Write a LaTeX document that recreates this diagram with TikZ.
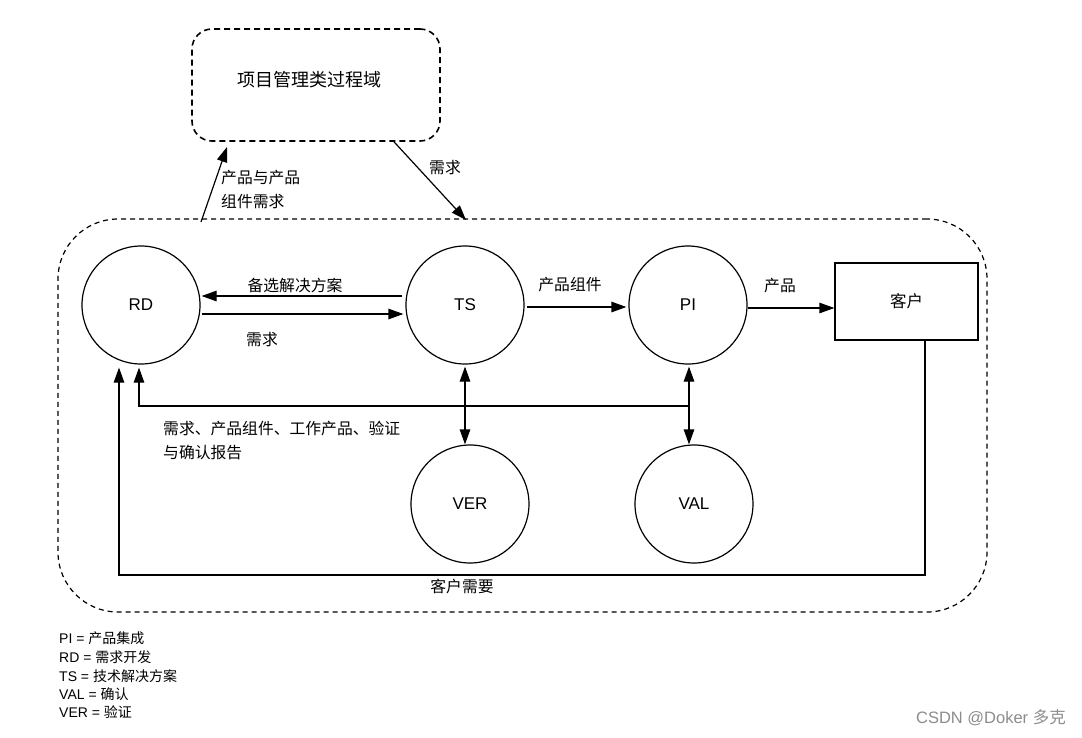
\documentclass[tikz,border=0pt]{standalone}
\usepackage{fontspec}
\setmainfont{Liberation Sans}
\newfontfamily\cjk{Noto Sans CJK SC}
\usetikzlibrary{arrows.meta,calc}
\begin{document}
\begin{tikzpicture}[x=1pt,y=-1pt,
  circ/.style={draw,circle,line width=1.2pt,minimum size=118pt,inner sep=0pt,font=\fontsize{17}{20}\selectfont},
  tip/.style={},
  arr/.style={line width=1.2pt,-{Triangle[length=15pt,width=10.5pt]}},
  darr/.style={line width=1.2pt,{Triangle[length=15pt,width=10.5pt]}-{Triangle[length=15pt,width=10.5pt]}},
  lbl/.style={font=\cjk\fontsize{15.8}{24}\selectfont,inner sep=0pt,align=left},
  leg/.style={font=\fontsize{14}{16}\selectfont,inner sep=0pt,anchor=west}
]
\useasboundingbox (0,0) rectangle (1082,737);
% domain boxes
\node[draw,dashed,dash pattern=on 6pt off 4pt,line width=1.6pt,rounded corners=20pt,minimum width=248pt,minimum height=112pt] (PM) at (316,85) {};
\node[lbl,font=\cjk\fontsize{18}{20}\selectfont] (PMt) at (309,80) {项目管理类过程域};
\node[draw,dashed,dash pattern=on 5pt off 4pt,line width=1.2pt,rounded corners=60pt,minimum width=929pt,minimum height=393pt] (BIG) at (522.5,415.5) {};
% process nodes
\node[circ] (RD) at (141,305) {RD};
\node[circ] (TS) at (465,305) {TS};
\node[circ] (PI) at (688,305) {PI};
\node[circ] (VER) at (470,504) {VER};
\node[circ] (VAL) at (694,504) {VAL};
\node[draw,line width=1.2pt,minimum width=143pt,minimum height=77pt,inner sep=0pt,font=\cjk\fontsize{16.5}{20}\selectfont] (C) at (906.5,301.5) {客户};
% coordinates
\coordinate (u0) at (201,222);
\coordinate (u1) at (227,147);
\coordinate (d1) at (466,220);
\coordinate (fb) at (689,406);
\coordinate (cnL) at (119,575);
% connectors
\draw[arr] (u0) -- (u1);
\draw[arr] ([xshift=78pt]PM.south) -- (d1);
\draw[arr] ([xshift=-3pt,yshift=9pt]TS.west) -- ([xshift=1pt,yshift=9pt]RD.east);
\draw[arr] ([xshift=1pt,yshift=-9pt]RD.east) -- ([xshift=-2pt,yshift=-9pt]TS.west);
\draw[arr] ([xshift=2pt,yshift=-2pt]TS.east) -- ([xshift=-2pt,yshift=-2pt]PI.west);
\draw[arr] ([yshift=-3pt]PI.east) -- ([yshift=-3pt]PI.east -| C.west);
\draw[darr] ([yshift=-2pt]TS.south) -- (TS.south |- VER.north);
\draw[darr] ([xshift=1pt,yshift=-2pt]PI.south) -- ([xshift=1pt]PI.south |- VAL.north);
\draw[arr] (fb) -| ([xshift=-2pt,yshift=-3pt]RD.south);
\draw[arr] ([xshift=18.5pt]C.south) |- (cnL) -- ([xshift=-22pt,yshift=-3pt]RD.south);
% labels
\node[lbl] (l1) at (295,285) {备选解决方案};
\node[lbl] (l2) at (262,340) {需求};
\node[lbl] (l3) at (570,285) {产品组件};
\node[lbl] (l4) at (780,286) {产品};
\node[lbl,anchor=west] (l5) at (221,189) {产品与产品\\组件需求};
\node[lbl] (l6) at (445,168) {需求};
\node[lbl,anchor=west] (l7) at (163,441) {需求、产品组件、工作产品、验证\\与确认报告};
\node[lbl] (l8) at (462,586) {客户需要};
% legend
\node[leg] (g1) at (59,638) {PI = {\cjk 产品集成}};
\node[leg] (g2) at (59,657) {RD = {\cjk 需求开发}};
\node[leg] (g3) at (59,676) {TS = {\cjk 技术解决方案}};
\node[leg] (g4) at (59,694) {VAL = {\cjk 确认}};
\node[leg] (g5) at (59,712) {VER = {\cjk 验证}};
\node[font=\fontsize{16.5}{18}\selectfont,text=black!45,inner sep=0pt] (wm) at (991,718) {CSDN @Doker {\cjk 多克}};
\end{tikzpicture}
\end{document}
